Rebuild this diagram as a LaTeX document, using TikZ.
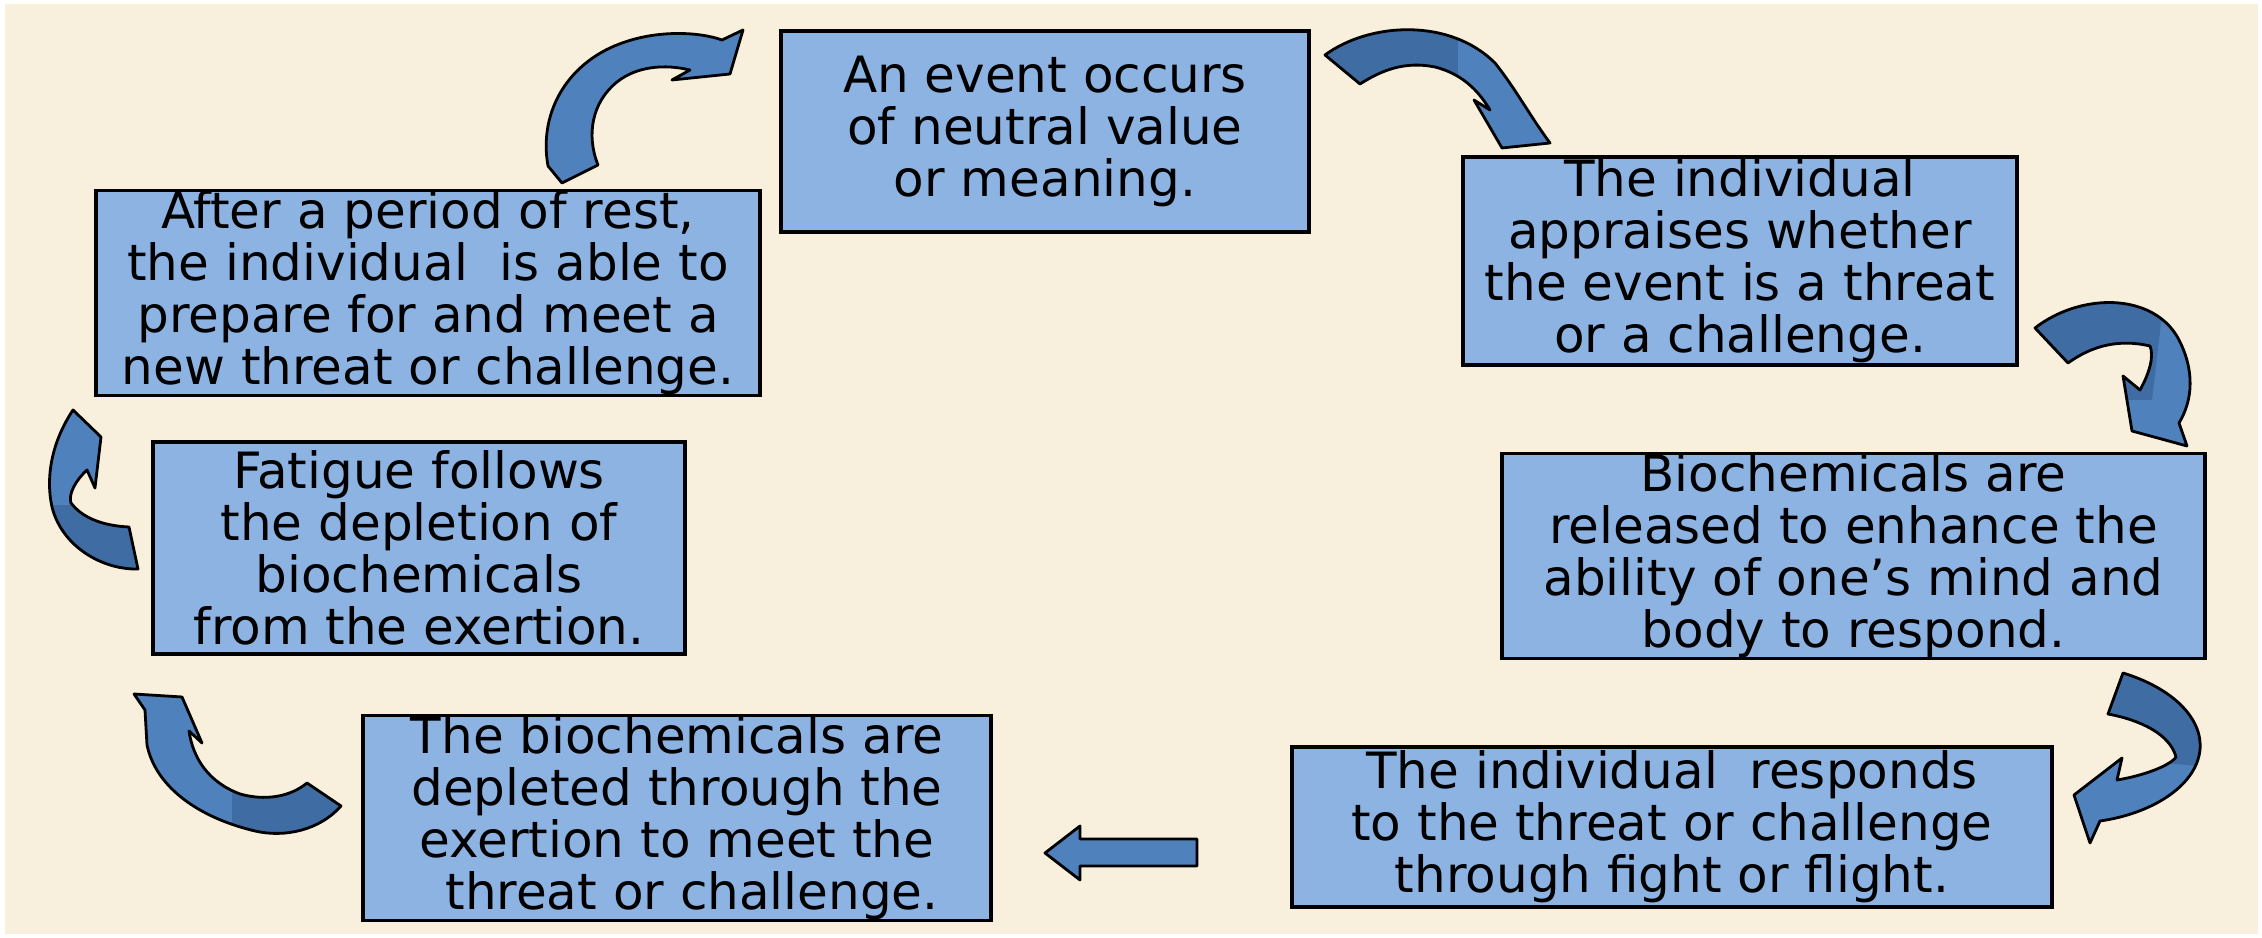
\documentclass[tikz,border=0pt]{standalone}
\usepackage{fontspec}
\setmainfont{DejaVu Sans}
\definecolor{bgcream}{HTML}{F8F0DC}
\definecolor{boxblue}{HTML}{8DB3E2}
\definecolor{arrowblue}{HTML}{4F81BD}
\definecolor{arrowdark}{HTML}{3F6CA3}
\newcommand\arrTL{(562,183) -- (548,166) .. controls (538,110) and (570,60) .. (625,42)
  .. controls (660,30) and (700,32) .. (722,40) -- (743,30) -- (730,74) -- (672,80) -- (690,70)
  .. controls (665,64) and (637,66) .. (617,82) .. controls (592,102) and (586,135) .. (598,165) -- cycle}
\newcommand\arrTR{(1325,55) .. controls (1370,22) and (1450,18) .. (1495,63)
  .. controls (1515,88) and (1530,116) .. (1550,143) -- (1502,148) -- (1474,100) -- (1490,110)
  .. controls (1478,90) and (1462,74) .. (1435,67) .. controls (1405,61) and (1382,70) .. (1360,84) -- cycle}
\newcommand\arrRU{(2035,328) .. controls (2080,293) and (2152,292) .. (2178,338)
  .. controls (2195,370) and (2193,400) .. (2179,423) -- (2187,446) -- (2132,431) -- (2123,376) -- (2140,390)
  .. controls (2150,372) and (2154,356) .. (2150,346) .. controls (2120,339) and (2093,345) .. (2068,363) -- cycle}
\newcommand\arrRL{(2123,673) .. controls (2172,688) and (2203,718) .. (2200,750)
  .. controls (2196,787) and (2150,814) .. (2100,821) -- (2090,843) -- (2074,795) -- (2122,758) -- (2117,780)
  .. controls (2142,776) and (2170,766) .. (2176,757) .. controls (2170,734) and (2140,720) .. (2108,714) -- cycle}
\newcommand\arrBS{(1197,839) -- (1080,839) -- (1080,826) -- (1045,853) -- (1080,880) -- (1080,866) -- (1197,866) -- cycle}
\newcommand\arrBL{(341,806) .. controls (320,830) and (285,838) .. (255,831)
  .. controls (200,818) and (156,788) .. (147,745) -- (145,710) -- (134,694) -- (182,697) -- (202,743) -- (189,731)
  .. controls (193,758) and (208,782) .. (240,794) .. controls (265,801) and (290,797) .. (307,783) -- cycle}
\newcommand\arrL{(138,569) .. controls (103,570) and (62,547) .. (52,507)
  .. controls (45,475) and (53,440) .. (73,410) -- (101,437) -- (95,488) -- (87,470)
  .. controls (76,480) and (68,494) .. (71,503) .. controls (84,520) and (107,526) .. (129,527) -- cycle}
\begin{document}
\begin{tikzpicture}[x=0.25pt,y=-0.25pt,
  box/.style={draw=black, line width=0.8pt, fill=boxblue, align=center, inner sep=0pt,
    font=\fontsize{12.5}{13}\selectfont},
  arrowline/.style={draw=black, line width=0.7pt, line join=round}]
\fill[white] (0,0) rectangle (2262,938);
\useasboundingbox (0,0) rectangle (2262,938);
\fill[bgcream] (5,4) rectangle (2258,934);

\node[box, minimum width=132pt, minimum height=50.25pt] (A) at (1045,131.5)
  {An event occurs\\of neutral value\\or meaning.};
\node[box, minimum width=138.5pt, minimum height=52pt] (B) at (1740,261)
  {The individual\hspace{1.2em}\\appraises whether\\the event is a threat\\or a challenge.};
\node[box, minimum width=175.75pt, minimum height=49.5pt] (C) at (1853.5,556)
  {Biochemicals are\\released to enhance the\\ability of one’s mind and\\body to respond.};
\node[box, minimum width=190pt, minimum height=40pt] (D) at (1672,827)
  {The individual\ \ responds\\to the threat or challenge\\through fight or flight.};
\node[box, minimum width=157pt, minimum height=50pt] (E) at (677,818)
  {The biochemicals are\\depleted through the\\exertion to meet the\\\hspace{0.6em}threat or challenge.};
\node[box, minimum width=133pt, minimum height=53pt] (F) at (419,548)
  {Fatigue follows\\the depletion of\\biochemicals\hspace{0.8em}\\from the exertion.};
\node[box, minimum width=166pt, minimum height=50pt] (G) at (428,293)
  {After a period of rest,\\the individual\ \ is able to\\prepare for and meet a\\new threat or challenge.};

% curved block arrows: light fill, darker back face, black outline
\fill[arrowblue] \arrTL;
\draw[arrowline] \arrTL;

\fill[arrowblue] \arrTR;
\begin{scope}\clip \arrTR; \fill[arrowdark] (1300,0) rectangle (1458,170);\end{scope}
\draw[arrowline] \arrTR;

\fill[arrowblue] \arrRU;
\begin{scope}\clip \arrRU; \fill[arrowdark] (2000,280) -- (2166,280) -- (2152,400) -- (2000,400) -- cycle;\end{scope}
\draw[arrowline] \arrRU;

\fill[arrowblue] \arrRL;
\begin{scope}\clip \arrRL; \fill[arrowdark] (2050,650) -- (2220,650) -- (2220,768) -- (2130,760) -- (2050,760) -- cycle;\end{scope}
\draw[arrowline] \arrRL;

\fill[arrowblue] \arrBS;
\draw[arrowline] \arrBS;

\fill[arrowblue] \arrBL;
\begin{scope}\clip \arrBL; \fill[arrowdark] (232,760) rectangle (360,850);\end{scope}
\draw[arrowline] \arrBL;

\fill[arrowblue] \arrL;
\begin{scope}\clip \arrL; \fill[arrowdark] (40,505) rectangle (150,580);\end{scope}
\draw[arrowline] \arrL;
\end{tikzpicture}
\end{document}
